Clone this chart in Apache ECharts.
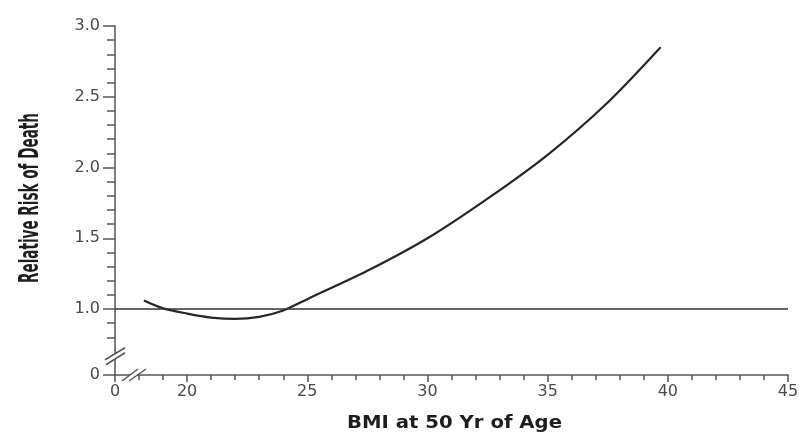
<!DOCTYPE html>
<html><head><meta charset="utf-8">
<script src="https://cdn.jsdelivr.net/npm/echarts@6/dist/echarts.min.js"></script>
<style>html,body{margin:0;padding:0;background:#fff}#c{width:809px;height:433px}</style>
</head><body><div id="c"></div>
<script>
// ---- data ----
const bmi      = [18.2, 19.0, 20.0, 21.0, 22.0, 23.0, 24.0, 25.0, 27.5, 30.0, 32.5, 35.0, 37.5, 39.7];
const relRisk  = [1.06, 1.005, 0.968, 0.94, 0.93, 0.945, 0.99, 1.07, 1.27, 1.50, 1.78, 2.09, 2.46, 2.85];
const referenceRisk = 1.0;

// ---- axis ticks / labels (axes are broken: "0" sits at the broken origin) ----
const xMajorTicks  = [17, 20, 25, 30, 35, 40, 45];
const xMajorLabels = ['0', '20', '25', '30', '35', '40', '45'];
const xMinorTicks  = [18, 19, 21, 22, 23, 24, 26, 27, 28, 29, 31, 32, 33, 34, 36, 37, 38, 39, 41, 42, 43, 44];
const yMajorTicks  = [0.534, 1.0, 1.5, 2.0, 2.5, 3.0];
const yMajorLabels = ['0', '1.0', '1.5', '2.0', '2.5', '3.0'];
const yMinorTicks  = [0.8, 0.9, 1.1, 1.2, 1.3, 1.4, 1.6, 1.7, 1.8, 1.9, 2.1, 2.2, 2.3, 2.4, 2.6, 2.7, 2.8, 2.9];

const xTitle = 'BMI at 50 Yr of Age';
const yTitle = 'Relative Risk of Death';

// ---- rendering ----
const AX = '#555';
const LBL = '#4a4a4a';
const chart = echarts.init(document.getElementById('c'), null, {renderer: 'canvas'});

function pick(ticks, labels, v) {
  for (let i = 0; i < ticks.length; i++) if (Math.abs(ticks[i] - v) < 1e-6) return labels[i];
  return '';
}
const xMin = xMajorTicks[0], xMax = xMajorTicks[xMajorTicks.length - 1];
const yMin = yMajorTicks[0], yMax = yMajorTicks[yMajorTicks.length - 1];

chart.setOption({
  animation: false,
  backgroundColor: '#fff',
  grid: {left: 115, right: 21, top: 26, bottom: 58, containLabel: false},
  xAxis: [{
    type: 'value', min: xMin, max: xMax, position: 'bottom',
    axisLine: {onZero: false, lineStyle: {color: AX, width: 1.5}},
    axisTick: {show: true, customValues: xMajorTicks, length: 7, lineStyle: {color: AX, width: 1.5}},
    axisLabel: {customValues: xMajorTicks, margin: 9, color: LBL, fontFamily: 'DejaVu Sans', fontSize: 16,
      formatter: v => pick(xMajorTicks, xMajorLabels, v)},
    splitLine: {show: false}
  }, {
    type: 'value', min: xMin, max: xMax, position: 'bottom',
    axisLine: {show: false, onZero: false},
    axisTick: {show: true, customValues: xMinorTicks, length: 5, lineStyle: {color: AX, width: 1.5}},
    axisLabel: {show: false},
    splitLine: {show: false}
  }],
  yAxis: [{
    type: 'value', min: yMin, max: yMax, position: 'left',
    axisLine: {show: true, onZero: false, lineStyle: {color: AX, width: 1.5}},
    axisTick: {show: true, customValues: yMajorTicks, length: 12, lineStyle: {color: AX, width: 1.5}},
    axisLabel: {customValues: yMajorTicks, margin: 15, color: LBL, fontFamily: 'DejaVu Sans', fontSize: 16,
      formatter: v => pick(yMajorTicks, yMajorLabels, v)},
    splitLine: {show: false}
  }, {
    type: 'value', min: yMin, max: yMax, position: 'left',
    axisLine: {show: false, onZero: false},
    axisTick: {show: true, customValues: yMinorTicks, length: 8, lineStyle: {color: AX, width: 1.5}},
    axisLabel: {show: false},
    splitLine: {show: false}
  }],
  series: [{
    type: 'line',
    xAxisIndex: 0, yAxisIndex: 0,
    data: bmi.map((x, i) => [x, relRisk[i]]),
    smooth: 0.3,
    showSymbol: false,
    lineStyle: {color: '#262626', width: 2.2},
    markLine: {
      silent: true, symbol: ['none', 'none'], label: {show: false},
      lineStyle: {color: '#333', width: 1.6, type: 'solid'},
      data: [{yAxis: referenceRisk}]
    }
  }]
});

// axis titles (measured and fitted to the reference's text extent)
function measure(font, text) {
  const ctx = document.createElement('canvas').getContext('2d');
  ctx.font = font; return ctx.measureText(text).width;
}
const xFont = 'bold 17px "DejaVu Sans"';
const yFont = 'bold 26px "DejaVu Sans"';
const xScale = 215 / measure(xFont, xTitle);
const yScale = 170 / measure(yFont, yTitle);

const P = (x, y) => chart.convertToPixel({gridIndex: 0}, [x, y]);
const [ox, oy] = P(xMin, yMin);
const [bx] = P(17.79, yMin);
const [, by] = P(xMin, 0.67);

function brk(pts1, pts2) {
  return [
    {type: 'polygon', z: 100, shape: {points: [pts1[0], pts1[1], pts2[1], pts2[0]]}, style: {fill: '#fff'}},
    {type: 'polyline', z: 101, shape: {points: pts1}, style: {stroke: AX, lineWidth: 1.5, fill: null}},
    {type: 'polyline', z: 101, shape: {points: pts2}, style: {stroke: AX, lineWidth: 1.5, fill: null}}
  ];
}

const gfx = [].concat(
  brk([[ox - 10, by + 4], [ox + 10, by - 8]], [[ox - 9, by + 9], [ox + 10, by - 3]]),
  brk([[bx - 12, oy + 6], [bx + 4, oy - 6]], [[bx - 5, oy + 6], [bx + 12, oy - 6]]),
  [{
    type: 'text', z: 100, x: (ox + P(xMax, yMin)[0]) / 2 + 3, y: 424, scaleX: xScale,
    style: {text: xTitle, font: xFont, fill: '#1e1e1e', textAlign: 'center', textVerticalAlign: 'middle'}
  }, {
    type: 'text', z: 100, x: 31, y: 198, rotation: Math.PI / 2, scaleX: yScale,
    style: {text: yTitle, font: yFont, fill: '#1e1e1e', textAlign: 'center', textVerticalAlign: 'middle'}
  }]
);
chart.setOption({graphic: {elements: gfx}});
</script>
</body></html>
